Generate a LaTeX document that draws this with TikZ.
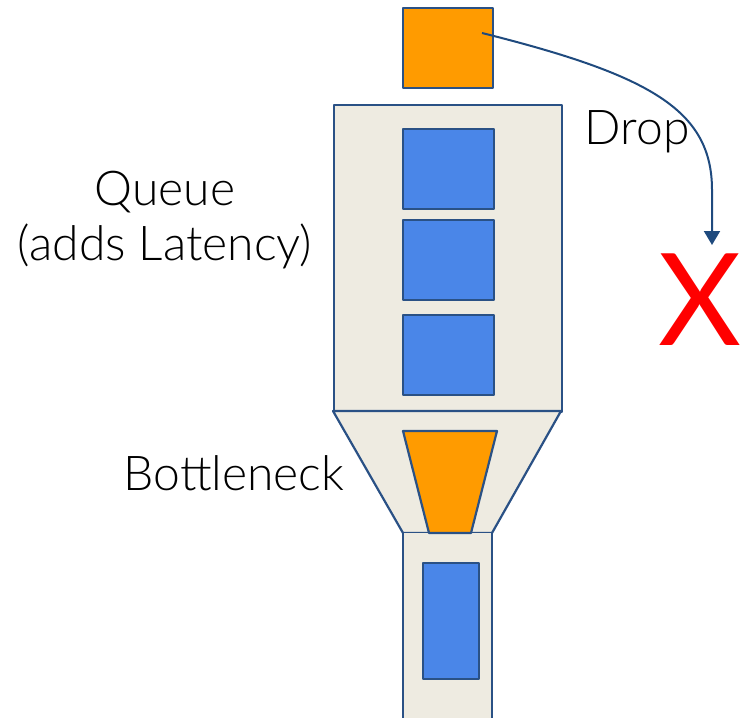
\documentclass[tikz,border=0pt]{standalone}
\usepackage{fontspec}
\setmainfont{Lato Light}
\newfontfamily\markfont{Lato}
\usetikzlibrary{arrows.meta}
\definecolor{borderblue}{HTML}{2A5185}
\definecolor{boxfill}{HTML}{EEEBE1}
\definecolor{pktblue}{HTML}{4A86E8}
\definecolor{pktorange}{HTML}{FF9B00}
\definecolor{arrowblue}{HTML}{1F4A7E}
\begin{document}
\begin{tikzpicture}[x=1pt,y=-1pt,
  frame/.style={draw=borderblue, line width=2.2pt, line join=round},
  pkt/.style={frame, fill=pktblue, anchor=north west, inner sep=0pt},
  label/.style={font=\fontsize{48}{55}\selectfont, align=center, text=black}]
\useasboundingbox (0,0) rectangle (741,717);
% queue container
\node[frame, fill=boxfill, anchor=north west, minimum width=228pt, minimum height=307pt, inner sep=0pt] (queue) at (333,104) {};
% funnel
\draw[frame, fill=boxfill] (333,411) coordinate (fl) -- (561,411) coordinate (fr) -- (492,533) coordinate (br) -- (403,533) coordinate (bl) -- cycle;
% bottom tube
\fill[boxfill] (403,533) rectangle (492,720);
\draw[frame] (bl) -- (403,720);
\draw[frame] (br) -- (492,720);
% orange bottleneck
\draw[frame, fill=pktorange] (403,431) -- (497,431) -- (471,533) -- (429,533) -- cycle;
% packets in queue
\node[pkt, minimum width=91pt, minimum height=80pt] (q1) at (402,128) {};
\node[pkt, minimum width=91pt, minimum height=80pt] (q2) at (402,219) {};
\node[pkt, minimum width=91pt, minimum height=80pt] (q3) at (402,314) {};
% packet leaving
\node[pkt, minimum width=56pt, minimum height=116pt] (out) at (422,562) {};
% incoming packet
\node[pkt, fill=pktorange, minimum width=90pt, minimum height=80pt] (in) at (402,7) {};
% drop mark
\node[text=red, font=\markfont\fontsize{128}{130}\selectfont, inner sep=0pt] (x) at (700,300) {X};
\coordinate (start) at (482,33);
\coordinate (tip) at (712,245);
\draw[arrowblue, line width=2pt, -{Triangle[width=16pt,length=14pt]}]
  (start) .. controls (650,75) and (712,110) .. (712,190) -- (tip);
% labels
\node[label] (drop) at (637,132) {Drop};
\node[label] (qlabel) at (165,220) {Queue\\(adds Latency)};
\node[label] (bneck) at (234,473) {Bottleneck};
\end{tikzpicture}
\end{document}
